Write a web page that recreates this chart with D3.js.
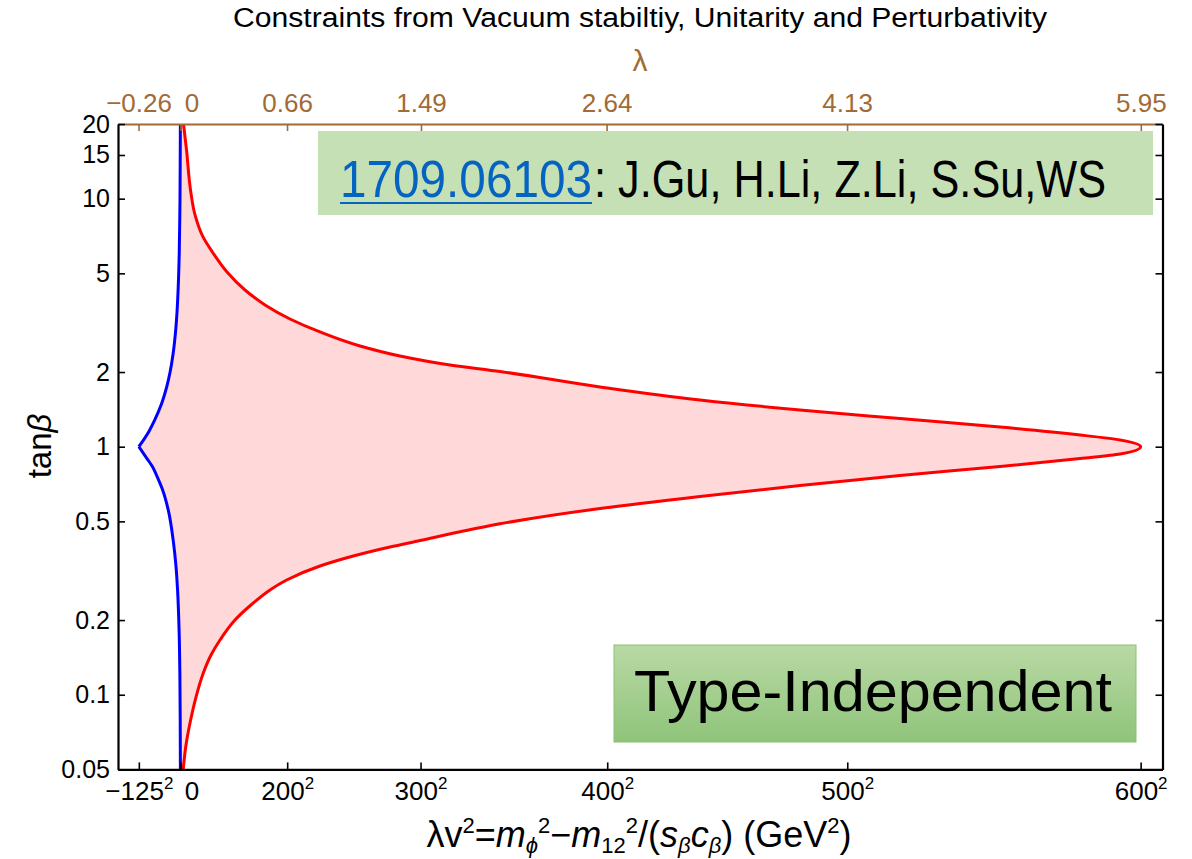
<!DOCTYPE html>
<html>
<head>
<meta charset="utf-8">
<script src="https://cdn.jsdelivr.net/npm/d3@7"></script>
<style>
  body { margin: 0; background: #fff; }
  text { font-family: "Liberation Sans", Arial, sans-serif; }
</style>
</head>
<body>
<svg id="chart" width="1192" height="859"></svg>
<script>
// ---- axis ticks ----
const xTicks = [-15625, 0, 40000, 90000, 160000, 250000, 360000];          // λv² in GeV²
const xTickBase = ["\u2212125", "0", "200", "300", "400", "500", "600"];     // drawn as base²
const lambdaTicks = [-0.26, 0, 0.66, 1.49, 2.64, 4.13, 5.95];
const yTicks = [0.05, 0.1, 0.2, 0.5, 1, 2, 5, 10, 15, 20];
const vev = 246; // GeV, λ = (λv²)/v²

// ---- vacuum stability boundary (blue), tanβ from 20 down to 0.05 ----
const stabTanb = [20, 15, 10, 8.2, 6, 4.42, 3.5, 3, 2.38, 2, 1.746, 1.5, 1.28, 1.15, 1,
                  0.9, 0.83, 0.75, 0.669, 0.55, 0.42, 0.33, 0.264, 0.18, 0.122, 0.08, 0.05];
const stabLv2  = [-60, -100, -190, -280, -480, -850, -1300, -1750, -2750, -3900, -5150, -7000, -9700, -11900, -15625,
                  -12700, -10500, -8600, -6700, -4500, -2750, -1700, -1100, -520, -240, -110, -50];

// ---- unitarity / perturbativity boundary (red), tanβ from 0.05 up to 20 ----
const pertTanb = [0.05, 0.0627, 0.0769, 0.0979, 0.1224, 0.1446, 0.1662, 0.2001, 0.2343, 0.2644, 0.2901, 0.3303, 0.3624,
                  0.394, 0.4184, 0.4538, 0.4888, 0.5632, 0.6297, 0.6976, 0.7653, 0.832, 0.8962, 0.9345, 1,
                  1.064, 1.115, 1.201, 1.299, 1.406, 1.543, 1.741, 2.01, 2.135, 2.321, 2.547, 2.901, 3.273, 3.728,
                  4.283, 5.063, 6.04, 7.01, 8.6, 10.84, 15.72, 20];
const pertLv2  = [1010, 2060, 3560, 5810, 8550, 11440, 14810, 20430, 27300, 33560, 39820, 52310, 64790,
                  78550, 89800, 104800, 119800, 157300, 194800, 232300, 269800, 307300, 337300, 352300, 360000,
                  352300, 337300, 307300, 269800, 232300, 194800, 157300, 119800, 101050, 82300, 67300, 52300, 41060, 31680,
                  24180, 17440, 12190, 8440, 5440, 3750, 2250, 1120];

const svg = d3.select("#chart");
const W = 1192, H = 859;
const L = 118, R = 1162.5, T = 124, B = 769.4;

svg.append("rect").attr("width", W).attr("height", H).attr("fill", "#fff");

const x = d3.scaleLinear().domain([-23437.5, 368200]).range([L, R]);
const xl = d3.scaleLinear().domain(x.domain().map(v => v / (vev * vev))).range([L, R]);
const y = d3.scaleLog().domain([0.05, 20]).range([B, T]);

const defs = svg.append("defs");
defs.append("clipPath").attr("id", "plotClip")
  .append("rect").attr("x", L).attr("y", T).attr("width", R - L).attr("height", B - T);

const stab = stabTanb.map((t, i) => ({ t, v: stabLv2[i] }));
const pert = pertTanb.map((t, i) => ({ t, v: pertLv2[i] }));
const stabUpper = stab.filter(d => d.t >= 1);
const stabLower = stab.filter(d => d.t <= 1);

const line = d3.line().x(d => x(d.v)).y(d => y(d.t)).curve(d3.curveMonotoneY);

const plot = svg.append("g").attr("clip-path", "url(#plotClip)");

// allowed region between the two boundaries
const fillPath = line(stabUpper) + line(stabLower).replace(/^M/, "L") + line(pert).replace(/^M/, "L") + "Z";
plot.append("path").attr("d", fillPath).attr("fill", "#ffd8d9").attr("stroke", "none");

plot.append("path").attr("d", line(pert)).attr("fill", "none").attr("stroke", "#ff0000").attr("stroke-width", 3);
plot.append("path").attr("d", line(stabUpper)).attr("fill", "none").attr("stroke", "#0000ff").attr("stroke-width", 3);
plot.append("path").attr("d", line(stabLower)).attr("fill", "none").attr("stroke", "#0000ff").attr("stroke-width", 3);

// ---- axes ----
const brown = "#a26a34";

const gBottom = svg.append("g").attr("transform", `translate(0,${B})`)
  .call(d3.axisBottom(x).tickValues(xTicks).tickSize(-7).tickSizeOuter(0).tickPadding(12));
gBottom.selectAll(".tick text").each(function (d, i) {
  const t = d3.select(this).text(null).attr("font-size", 26).attr("fill", "#000")
    .attr("font-family", "Liberation Sans, Arial, sans-serif");
  t.append("tspan").text(xTickBase[i]);
  if (d !== 0) t.append("tspan").attr("font-size", 17).attr("dy", -11).text("2");
  else t.attr("dx", 11);
});

const gTop = svg.append("g").attr("transform", `translate(0,${T})`)
  .call(d3.axisTop(xl).tickValues(lambdaTicks).tickSize(-7).tickSizeOuter(0).tickPadding(12)
    .tickFormat(d => d === 0 ? "0" : (d < 0 ? "\u2212" : "") + Math.abs(d).toFixed(2)));
gTop.selectAll(".tick text").attr("font-size", 26).attr("fill", brown)
  .attr("font-family", "Liberation Sans, Arial, sans-serif")
  .attr("dx", d => d === 0 ? 11 : 0);
gTop.selectAll(".tick line").attr("stroke", brown).attr("stroke-width", 1.6);
gTop.select(".domain").attr("stroke", brown).attr("stroke-width", 2);

const gLeft = svg.append("g").attr("transform", `translate(${L},0)`)
  .call(d3.axisLeft(y).tickValues(yTicks).tickSize(-7).tickSizeOuter(0).tickPadding(8)
    .tickFormat(d => String(d)));
gLeft.selectAll(".tick text").attr("font-size", 25).attr("fill", "#000")
  .attr("font-family", "Liberation Sans, Arial, sans-serif");

const gRight = svg.append("g").attr("transform", `translate(${R},0)`)
  .call(d3.axisRight(y).tickValues(yTicks).tickSize(-7).tickSizeOuter(0).tickFormat(() => ""));

[gBottom, gLeft, gRight].forEach(g => {
  g.select(".domain").attr("stroke", "#000").attr("stroke-width", 2.2);
  g.selectAll(".tick line").attr("stroke", "#000").attr("stroke-width", 1.6);
});

// ---- titles and axis labels ----
svg.append("text").attr("x", 640).attr("y", 27).attr("text-anchor", "middle")
  .attr("font-size", 27).attr("fill", "#000")
  .attr("textLength", 814).attr("lengthAdjust", "spacingAndGlyphs")
  .text("Constraints from Vacuum stabiltiy, Unitarity and Perturbativity");

svg.append("text").attr("x", 640).attr("y", 71).attr("text-anchor", "middle")
  .attr("font-size", 30).attr("fill", brown).text("\u03bb");

const yl = svg.append("text").attr("transform", "translate(51,446) rotate(-90)")
  .attr("text-anchor", "middle").attr("font-size", 33).attr("fill", "#000");
yl.append("tspan").text("tan");
yl.append("tspan").attr("font-style", "italic").text("\u03b2");

const xlab = svg.append("text").attr("x", 639).attr("y", 847).attr("text-anchor", "middle")
  .attr("font-size", 36).attr("fill", "#000");
const parts = [
  ["\u03bbv", 0, false], ["2", -14, false, true], ["=", 14, false],
  ["m", 0, true], ["\u03d5", 6, true, true], ["2", -20, false, true], ["\u2212", 14, false],
  ["m", 0, true], ["12", 6, false, true], ["2", -20, false, true], ["/(", 14, false],
  ["s", 0, true], ["\u03b2", 6, true, true], ["c", -6, true], ["\u03b2", 6, true, true], [") (GeV", -6, false],
  ["2", -14, false, true], [")", 14, false]
];
parts.forEach(([s, dy, it, small]) => {
  xlab.append("tspan").attr("dy", dy).attr("font-style", it ? "italic" : "normal")
    .attr("font-size", small ? 22 : 36).text(s);
});

// ---- reference box (text is drawn narrow and tall) ----
svg.append("rect").attr("x", 318).attr("y", 131).attr("width", 835).attr("height", 84).attr("fill", "#c5e0b4");
svg.append("text").attr("transform", "translate(340,197) scale(1,1.19)")
  .attr("font-family", "Lato, 'Open Sans', sans-serif")
  .attr("font-size", 43).attr("fill", "#0563c1")
  .attr("textLength", 252).attr("lengthAdjust", "spacingAndGlyphs").text("1709.06103");
svg.append("line").attr("x1", 340).attr("x2", 592).attr("y1", 203).attr("y2", 203)
  .attr("stroke", "#0563c1").attr("stroke-width", 2.2);
svg.append("text").attr("transform", "translate(594,197) scale(1,1.19)")
  .attr("font-family", "Lato, 'Open Sans', sans-serif")
  .attr("font-size", 43).attr("fill", "#000")
  .attr("textLength", 512).attr("lengthAdjust", "spacingAndGlyphs").text(": J.Gu, H.Li, Z.Li, S.Su,WS");

// ---- model label box ----
const grad = defs.append("linearGradient").attr("id", "greenGrad")
  .attr("x1", 0).attr("y1", 0).attr("x2", 0).attr("y2", 1);
grad.append("stop").attr("offset", 0).attr("stop-color", "#b9d9a5");
grad.append("stop").attr("offset", 1).attr("stop-color", "#8fc47a");
svg.append("rect").attr("x", 614).attr("y", 645).attr("width", 522).attr("height", 97)
  .attr("fill", "url(#greenGrad)").attr("stroke", "#8cbf74").attr("stroke-width", 1);
svg.append("text").attr("x", 873).attr("y", 711).attr("text-anchor", "middle")
  .attr("font-family", "Lato, 'Open Sans', sans-serif").attr("font-size", 58).attr("fill", "#000")
  .attr("textLength", 478).attr("lengthAdjust", "spacingAndGlyphs").text("Type-Independent");
</script>
</body>
</html>
